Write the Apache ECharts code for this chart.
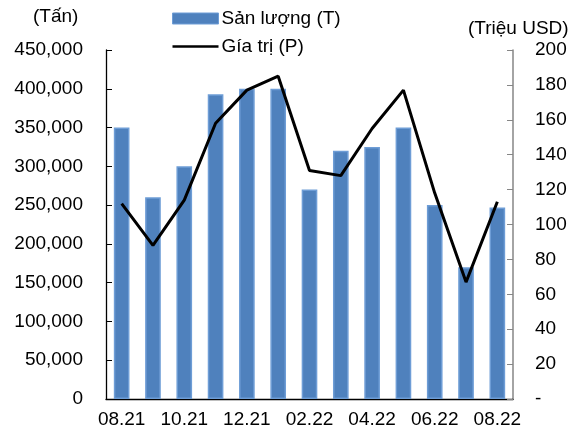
<!DOCTYPE html>
<html><head><meta charset="utf-8">
<script src="https://cdn.jsdelivr.net/npm/echarts@6/dist/echarts.min.js"></script>
<style>html,body{margin:0;padding:0;background:#fff}#c{width:583px;height:437px}</style>
</head><body><div id="c"></div>
<script>
var categories = ['08.21','09.21','10.21','11.21','12.21','01.22','02.22','03.22','04.22','05.22','06.22','07.22','08.22'];
var volume = [350000, 260000, 300000, 393000, 400000, 400000, 270000, 320000, 325000, 350000, 250000, 170000, 247000];
var value = [112, 88, 114, 158, 177, 185, 131, 128, 155, 177, 118, 67, 113];
var leftTicks = [0, 50000, 100000, 150000, 200000, 250000, 300000, 350000, 400000, 450000];
var rightTicks = [0, 20, 40, 60, 80, 100, 120, 140, 160, 180, 200];

var FONT = 'Liberation Sans, Arial, sans-serif';
var FS = 19;
var chart = echarts.init(document.getElementById('c'));
chart.setOption({
  animation: false,
  textStyle: {fontFamily: FONT},
  grid: {left: 106, right: 70, top: 50, bottom: 38},
  legend: {
    orient: 'vertical', left: 167, top: 4, itemGap: 9,
    itemWidth: 46, itemHeight: 11,
    textStyle: {fontFamily: FONT, fontSize: FS, color: '#000', padding: [0, 0, 0, -2]},
    data: [
      {name: 'Sản lượng (T)', icon: 'rect', itemStyle: {color: '#4F81BD', borderColor: '#6E9DD6', borderWidth: 1}},
      {name: 'Gía trị (P)', icon: 'path://M0,4.5 L46,4.5 L46,6.8 L0,6.8 Z', itemStyle: {color: '#000', borderWidth: 0}}
    ]
  },
  graphic: [
    {type: 'text', left: 33, top: 7, style: {text: '(Tấn)', font: FS + 'px ' + FONT, fill: '#000'}},
    {type: 'text', left: 468, top: 19, style: {text: '(Triệu USD)', font: FS + 'px ' + FONT, fill: '#000'}}
  ],
  xAxis: [
    {
      type: 'category', data: categories, position: 'bottom',
      axisLine: {lineStyle: {color: '#000', width: 1.3}},
      axisTick: {inside: true, length: 5, interval: 0, lineStyle: {color: '#000'}},
      axisLabel: {interval: 1, color: '#000', fontSize: FS, fontFamily: FONT, margin: 11}
    },
    {
      type: 'category', data: categories, position: 'bottom',
      axisLine: {show: false},
      axisTick: {inside: true, length: 5, interval: 0, alignWithLabel: true, lineStyle: {color: '#000'}},
      axisLabel: {show: false}
    }
  ],
  yAxis: [
    {
      type: 'value', min: leftTicks[0], max: leftTicks[leftTicks.length - 1], interval: leftTicks[1] - leftTicks[0],
      splitLine: {show: false},
      axisLine: {show: true, lineStyle: {color: '#000', width: 1.3}},
      axisTick: {show: true, inside: true, length: 6, lineStyle: {color: '#000'}},
      axisLabel: {color: '#000', fontSize: FS, fontFamily: FONT, margin: 23,
        formatter: function (v) { return v.toLocaleString('en-US'); }}
    },
    {
      type: 'value', min: rightTicks[0], max: rightTicks[rightTicks.length - 1], interval: rightTicks[1] - rightTicks[0],
      position: 'right',
      splitLine: {show: false},
      axisLine: {show: true, lineStyle: {color: '#868686', width: 1.5}},
      axisTick: {show: true, inside: true, length: 6, lineStyle: {color: '#868686'}},
      axisLabel: {color: '#000', fontSize: FS, fontFamily: FONT, margin: 22, align: 'left',
        formatter: function (v) { return v === 0 ? '-' : String(v); }}
    }
  ],
  series: [
    {
      name: 'Sản lượng (T)', type: 'bar', data: volume, xAxisIndex: 0, yAxisIndex: 0,
      barWidth: '50%',
      itemStyle: {color: '#4F81BD', borderColor: '#6E9DD6', borderWidth: 1.5}
    },
    {
      name: 'Gía trị (P)', type: 'line', data: value, xAxisIndex: 0, yAxisIndex: 1,
      symbol: 'none', lineStyle: {color: '#000', width: 3}, itemStyle: {color: '#000'}
    }
  ]
});
</script></body></html>
